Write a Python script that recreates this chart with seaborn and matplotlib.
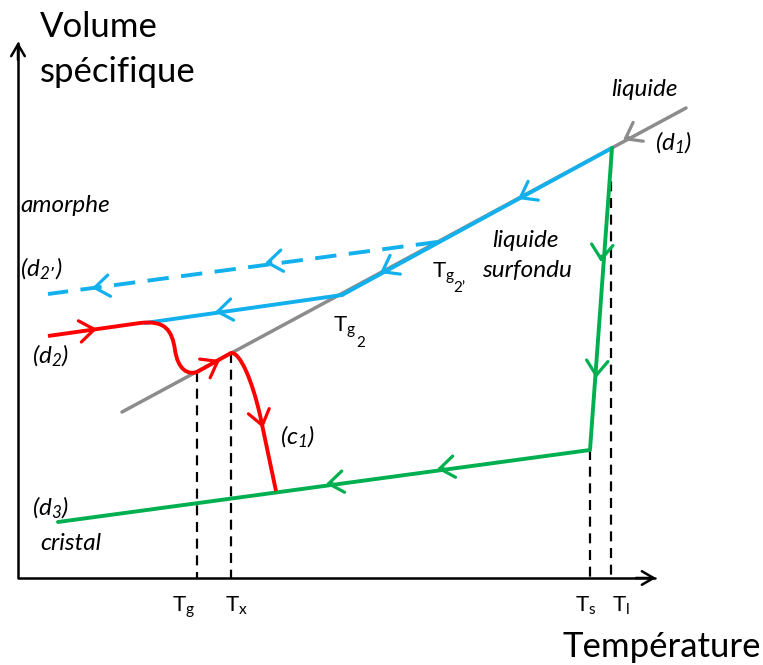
import numpy as np
import matplotlib
matplotlib.use("Agg")
import matplotlib.pyplot as plt
from matplotlib.path import Path
from matplotlib.patches import PathPatch
import seaborn as sns
import pandas as pd

sns.set_theme(style="white")
plt.rcParams['font.family'] = ['Lato', 'DejaVu Sans']
plt.rcParams['mathtext.default'] = 'regular'
plt.rcParams['text.color'] = 'black'

# ---- schematic data (drawing units, y grows downward) ----
axis_x = [18, 18, 655]
axis_y = [43, 578, 578]
d1_x = [122, 686]            # grey liquid line (d1)
d1_y = [412, 108]
liq_x = [612, 342]            # blue cooled-liquid segment
liq_y = [148, 295]
d2p_x = [437, 48]             # blue dashed (d2')
d2p_y = [242, 294]
d2_x = [342, 145]             # blue solid (d2)
d2_y = [295, 323]
green_x = [612, 590, 58]      # crystallisation + crystal (d3)
green_y = [148, 450, 522]
# red heating curve (c1): path vertices & codes
red_x = [48, 140, 165, 172, 175, 178, 188, 197, 231, 240, 252, 260, 276]
red_y = [336, 323, 320, 330, 350, 370, 375, 372, 353, 352, 380, 415, 491]
red_codes = ['M', 'L', 'C', 'C', 'C', 'C', 'C', 'C', 'L', 'C', 'C', 'C', 'L']
# dashed guides: x, top y
guide_x = [197, 231, 590, 611]
guide_top = [372, 353, 450, 148]
guide_labels = ['T$_{g}$', 'T$_{x}$', 'T$_{s}$', 'T$_{l}$']
guide_label_x = [184, 236, 586, 621]

# arrows: tip x, tip y, direction x, direction y, colour key
arrow_x = [623, 518, 380, 265, 92, 215, 97, 220, 263, 601, 596, 437, 326]
arrow_y = [140, 199, 273, 263, 288, 312, 329, 360, 428, 262, 378, 469, 484]
arrow_dx = [-564, -270, -270, -389, -389, -197, 92, 34, 0.25, -22, -22, -532, -532]
arrow_dy = [304, 147, 147, 52, 52, 28, -13, -19, 1, 302, 302, 72, 72]
arrow_col = ['gray', 'blue', 'blue', 'blue', 'blue', 'blue', 'red', 'red', 'red',
             'green', 'green', 'green', 'green']

COL = {'gray': '#8c8c8c', 'blue': '#12b0ec', 'red': '#ff0000',
       'green': '#00b050', 'black': 'black'}

fig = plt.figure(figsize=(7.63, 6.65), dpi=100)
ax = fig.add_axes([0, 0, 1, 1])
ax.set_xlim(0, 763)
ax.set_ylim(665, 0)
ax.axis('off')

def seg(xs, ys, color, lw, ls='-', z=2):
    df = pd.DataFrame({'x': xs, 'y': ys})
    sns.lineplot(data=df, x='x', y='y', sort=False, estimator=None, ax=ax,
                 color=color, lw=lw, linestyle=ls, zorder=z)

# dashed guides
for gx, gt in zip(guide_x, guide_top):
    seg([gx, gx], [gt, 578], 'black', 1.6, (0, (4.5, 3)), z=1)

seg(d1_x, d1_y, COL['gray'], 2.5, z=2)
seg(liq_x, liq_y, COL['blue'], 2.8, z=3)
seg(d2p_x, d2p_y, COL['blue'], 2.8, (0, (5.5, 3.2)), z=3)
seg(d2_x, d2_y, COL['blue'], 2.8, z=3)
seg(green_x, green_y, COL['green'], 2.8, z=3)

cmap = {'M': Path.MOVETO, 'L': Path.LINETO, 'C': Path.CURVE4}
path = Path(np.column_stack([red_x, red_y]), [cmap[c] for c in red_codes])
ax.add_patch(PathPatch(path, fill=False, edgecolor=COL['red'], lw=2.8,
                       zorder=4, capstyle='butt'))

# axes with arrowheads
seg(axis_x, axis_y, 'black', 1.8, z=5)
ax.annotate('', xy=(18, 42), xytext=(18, 60),
            arrowprops=dict(arrowstyle='->,head_length=0.6,head_width=0.35',
                            color='black', lw=1.8, shrinkA=0, shrinkB=0,
                            mutation_scale=14))
ax.annotate('', xy=(656, 578), xytext=(636, 578),
            arrowprops=dict(arrowstyle='->,head_length=0.6,head_width=0.35',
                            color='black', lw=1.8, shrinkA=0, shrinkB=0,
                            mutation_scale=14))

# chevrons on curves
for tx, ty, dx, dy, c in zip(arrow_x, arrow_y, arrow_dx, arrow_dy, arrow_col):
    n = np.hypot(dx, dy)
    ux, uy = dx / n, dy / n
    ax.annotate('', xy=(tx, ty), xytext=(tx - 6 * ux, ty - 6 * uy),
                arrowprops=dict(arrowstyle='->,head_length=0.75,head_width=0.55',
                                color=COL[c], lw=2.3, shrinkA=0, shrinkB=0,
                                mutation_scale=14), zorder=6)

# texts
big = 25
ax.text(40, 37, 'Volume', fontsize=big, va='baseline', ha='left')
ax.text(40, 82, 'spécifique', fontsize=big, va='baseline', ha='left')
ax.text(761, 657, 'Température', fontsize=big, va='baseline', ha='right')

it = dict(fontsize=17.5, style='italic', va='baseline', ha='left')
ax.text(611, 96, 'liquide', **it)
ax.text(655, 150, '(d$_{1}$)', **it)
ax.text(20, 212, 'amorphe', **it)
ax.text(20, 276, '(d$_{2\u2019}$)', **it)
ax.text(32, 363, '(d$_{2}$)', **it)
ax.text(280, 444, '(c$_{1}$)', **it)
ax.text(32, 515, '(d$_{3}$)', **it)
ax.text(40, 550, 'cristal', **it)
ax.text(492, 247, 'liquide', **it)
ax.text(482, 277, 'surfondu', **it)

nt = dict(fontsize=16, va='baseline')
# T_g2' and T_g2 (second-level subscript drawn as its own small text)
ax.text(432, 278, 'T$_{g}$', ha='left', **nt)
ax.text(453, 292, '2\u2019', ha='left', fontsize=11, va='baseline')
ax.text(333, 332, 'T$_{g}$', ha='left', **nt)
ax.text(356, 347, '2', ha='left', fontsize=11, va='baseline')
for lx, lab in zip(guide_label_x, guide_labels):
    ax.text(lx, 612, lab, ha='center', **nt)

fig.savefig('out.png', dpi=100)
